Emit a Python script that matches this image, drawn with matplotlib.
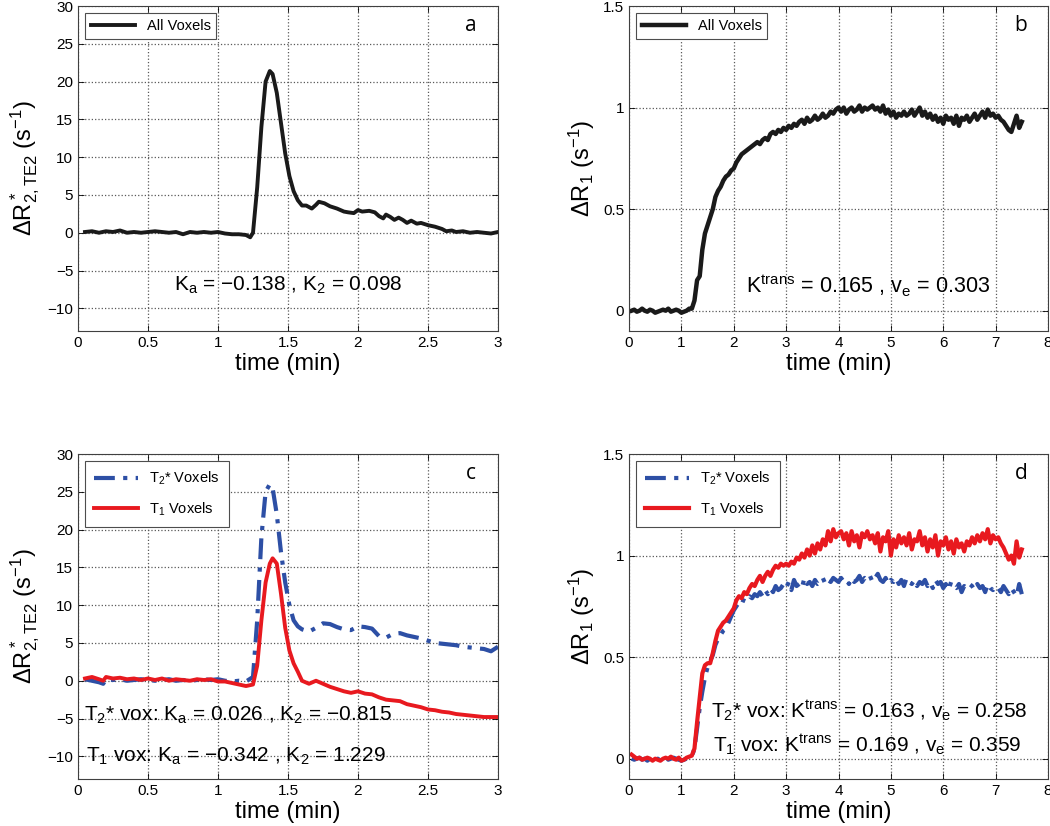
import numpy as np
import matplotlib
matplotlib.use('Agg')
import matplotlib.pyplot as plt
from matplotlib.ticker import FuncFormatter

plt.rcParams['font.family'] = ['Liberation Sans', 'DejaVu Sans']
plt.rcParams['mathtext.default'] = 'regular'

# ---- panel a : all voxels, dR2* ----
t_a = [0.05, 0.1, 0.15, 0.2, 0.25, 0.3, 0.35, 0.4, 0.45, 0.5, 0.55, 0.6, 0.65, 0.7, 0.75, 0.8,
       0.85, 0.9, 0.95, 1.0, 1.05, 1.1, 1.15, 1.2,
       1.23, 1.25, 1.28, 1.31, 1.34, 1.37, 1.39, 1.42, 1.45, 1.48, 1.51, 1.54, 1.57,
       1.6, 1.63, 1.67, 1.7, 1.72, 1.76, 1.8, 1.85, 1.9, 1.93, 1.97, 2.0, 2.03, 2.08, 2.12,
       2.15, 2.18, 2.2, 2.23, 2.26, 2.29, 2.32, 2.35, 2.38, 2.42, 2.45, 2.5, 2.55, 2.6, 2.63,
       2.67, 2.7, 2.75, 2.8, 2.85, 2.9, 2.95, 3.0]
r2_all = [0.1, 0.2, 0.0, 0.2, 0.1, 0.3, 0.0, 0.1, 0.0, 0.1, 0.2, 0.1, 0.0, 0.1, -0.2, 0.1,
          0.0, 0.1, 0.0, 0.1, -0.1, -0.2, -0.2, -0.3,
          -0.6, 0.0, 6, 14, 20, 21.4, 21.0, 18.5, 14.5, 10.5, 7.5, 5.5, 4.3,
          3.6, 3.6, 3.2, 3.7, 4.1, 3.9, 3.5, 3.2, 2.8, 2.7, 2.6, 3.0, 2.8, 2.9, 2.7,
          2.2, 1.9, 2.4, 2.1, 1.7, 2.0, 1.7, 1.3, 1.6, 1.2, 1.3, 1.0, 0.8, 0.5, 0.2,
          0.3, 0.1, 0.2, 0.0, 0.1, 0.0, -0.1, 0.1]

# ---- panel c : T2* voxels vs T1 voxels, dR2* ----
t_c = [0.05, 0.1, 0.15, 0.18, 0.2,
       0.25, 0.3, 0.35, 0.4, 0.45, 0.5, 0.55, 0.6, 0.65, 0.7, 0.75, 0.8, 0.85, 0.9, 0.95,
       1.0, 1.05, 1.1, 1.15, 1.2,
       1.25, 1.28, 1.31, 1.34, 1.37, 1.39, 1.42, 1.45, 1.48, 1.51, 1.54, 1.57,
       1.6, 1.65, 1.7, 1.75, 1.8, 1.85, 1.9, 1.95, 2.0, 2.05, 2.1, 2.15, 2.2, 2.25, 2.3,
       2.35, 2.4, 2.45, 2.5, 2.55, 2.6, 2.65, 2.7, 2.75, 2.8, 2.85, 2.9, 2.95, 3.0]
r2_t2vox = [0.2, 0.0, -0.2, -0.4, 0.2,
            0.1, 0.2, 0.0, 0.1, 0.2, 0.1, 0.0, 0.1, 0.2, 0.0, 0.1, 0.0, 0.1, 0.2, 0.1,
            0.2, 0.0, -0.1, 0.0, -0.1,
            0.5, 8, 19, 25, 26, 25.5, 22, 17, 13, 10, 8, 7.2,
            6.8, 6.5, 7.0, 7.6, 7.5, 7.1, 6.8, 6.7, 7.2, 7.1, 6.9, 5.9, 5.7, 6.2, 6.3,
            6.0, 5.8, 5.6, 5.3, 5.0, 4.9, 4.8, 4.7, 4.5, 4.4, 4.3, 4.2, 3.9, 4.5]
r2_t1vox = [0.3, 0.5, 0.2, 0.0, 0.5,
            0.3, 0.4, 0.2, 0.3, 0.1, 0.3, 0.1, 0.3, 0.0, 0.2, 0.1, 0.0, 0.2, 0.1, 0.2,
            -0.1, -0.1, -0.3, -0.5, -0.7,
            -0.5, 2, 8, 13, 15.5, 16.2, 15.5, 11.5, 7, 4, 2.3, 1.2,
            0.0, -0.4, 0.0, -0.4, -0.8, -1.1, -1.4, -1.6, -1.4, -1.7, -1.8, -2.2, -2.5, -2.6, -2.7,
            -3.1, -3.3, -3.5, -3.8, -3.9, -4.1, -4.2, -4.4, -4.5, -4.6, -4.7, -4.8, -4.8, -4.8]

# ---- panels b, d : dR1, sampled every 0.05 min from 0.05 to 7.5 ----
t_long = np.arange(1, 151) * 0.05
r1_all = [0.0, 0.005, -0.005, 0.0, 0.01, 0.0, -0.005, 0.005, 0.0, -0.01,
          -0.005, 0.0, 0.005, 0.0, 0.01, -0.005, 0.0, 0.005, 0.0, -0.01,
          -0.005, 0.0, 0.01, 0.01, 0.05, 0.15, 0.17, 0.30, 0.38, 0.42,
          0.46, 0.50, 0.56, 0.59, 0.61, 0.64, 0.66, 0.67, 0.69, 0.70,
          0.73, 0.75, 0.77, 0.78, 0.79, 0.80, 0.81, 0.82, 0.83, 0.82,
          0.84, 0.85, 0.84, 0.87, 0.88, 0.87, 0.89, 0.88, 0.90, 0.89,
          0.91, 0.90, 0.92, 0.91, 0.93, 0.94, 0.92, 0.95, 0.93, 0.94,
          0.96, 0.94, 0.95, 0.97, 0.95, 0.96, 0.98, 0.97, 0.99, 1.00,
          0.98, 1.00, 0.97, 0.99, 1.00, 0.98, 0.99, 1.01, 0.98, 1.00,
          0.99, 1.00, 1.01, 0.99, 1.00, 0.98, 1.01, 0.97, 0.99, 0.96,
          0.98, 0.95, 0.97, 0.96, 0.98, 0.96, 0.97, 0.99, 0.96, 0.98,
          1.00, 0.96, 0.98, 0.95, 0.97, 0.94, 0.96, 0.93, 0.95, 0.92,
          0.96, 0.94, 0.95, 0.92, 0.96, 0.91, 0.95, 0.94, 0.96, 0.93,
          0.95, 0.97, 0.94, 0.96, 0.98, 0.95, 0.99, 0.96, 0.97, 0.95,
          0.96, 0.94, 0.93, 0.91, 0.89, 0.88, 0.92, 0.96, 0.90, 0.93]
r1_t2vox = [0.0, -0.005, 0.0, 0.005, -0.005, 0.0, -0.01, 0.0, 0.005, -0.005,
            0.0, -0.01, 0.0, 0.005, -0.005, 0.0, 0.005, 0.0, -0.005, -0.01,
            -0.005, 0.0, 0.005, 0.01, 0.05, 0.15, 0.25, 0.33, 0.40, 0.45,
            0.48, 0.51, 0.56, 0.59, 0.61, 0.63, 0.64, 0.67, 0.70, 0.73,
            0.75, 0.77, 0.76, 0.79, 0.78, 0.80, 0.79, 0.81, 0.80, 0.82,
            0.80, 0.83, 0.81, 0.84, 0.82, 0.85, 0.83, 0.84, 0.86, 0.84,
            0.87, 0.83, 0.88, 0.85, 0.86, 0.84, 0.89, 0.86, 0.87, 0.85,
            0.88, 0.86, 0.87, 0.89, 0.86, 0.88, 0.87, 0.89, 0.88, 0.87,
            0.89, 0.87, 0.88, 0.86, 0.89, 0.87, 0.88, 0.90, 0.87, 0.89,
            0.88, 0.90, 0.87, 0.89, 0.91, 0.88, 0.87, 0.89, 0.86, 0.88,
            0.87, 0.89, 0.86, 0.88, 0.85, 0.89, 0.87, 0.86, 0.88, 0.85,
            0.87, 0.86, 0.88, 0.85, 0.87, 0.84, 0.88, 0.86, 0.87, 0.84,
            0.86, 0.83, 0.87, 0.85, 0.84, 0.86, 0.82, 0.85, 0.84, 0.86,
            0.85, 0.83, 0.86, 0.84, 0.85, 0.82, 0.86, 0.84, 0.83, 0.85,
            0.84, 0.82, 0.85, 0.83, 0.81, 0.84, 0.82, 0.80, 0.86, 0.81]
r1_t1vox = [0.02, 0.01, 0.0, 0.005, -0.005, 0.0, 0.005, 0.0, -0.01, 0.0,
            -0.005, -0.01, 0.0, 0.005, 0.0, 0.01, 0.0, -0.005, 0.005, -0.01,
            -0.005, 0.005, 0.01, 0.015, 0.05, 0.18, 0.30, 0.42, 0.46, 0.47,
            0.47, 0.52, 0.58, 0.63, 0.65, 0.67, 0.68, 0.70, 0.72, 0.74,
            0.78, 0.80, 0.79, 0.82, 0.81, 0.84, 0.86, 0.85, 0.88, 0.90,
            0.87, 0.90, 0.92, 0.90, 0.93, 0.95, 0.94, 0.96, 0.95, 0.96,
            0.95, 0.97, 0.96, 0.99, 0.98, 1.01, 0.99, 1.03, 1.00, 1.05,
            1.01, 1.06, 1.03, 1.08, 1.05, 1.12, 1.07, 1.13, 1.09, 1.11,
            1.12, 1.08, 1.11, 1.05, 1.12, 1.07, 1.10, 1.04, 1.11, 1.09,
            1.12, 1.08, 1.10, 1.06, 1.11, 1.02, 1.09, 1.07, 1.12, 1.00,
            1.08, 1.04, 1.10, 1.06, 1.09, 1.05, 1.11, 1.03, 1.08, 1.07,
            1.12, 1.05, 1.09, 1.02, 1.08, 1.04, 1.10, 1.00, 1.07, 1.05,
            1.09, 1.03, 1.07, 1.01, 1.08, 1.04, 1.06, 1.02, 1.07, 1.05,
            1.09, 1.06, 1.10, 1.07, 1.11, 1.08, 1.13, 1.06, 1.10, 1.08,
            1.09, 1.06, 1.04, 1.01, 0.98, 1.00, 0.96, 1.07, 0.99, 1.03]

r2_label = r'$\Delta R^*_{2,TE2}$ (s$^{-1}$)'
r1_label = r'$\Delta R_1$ (s$^{-1}$)'
blk = '#1a1a1a'
red = '#e8191f'
blue = '#2d4fa5'

fig = plt.figure(figsize=(10.5, 8.26), dpi=100)
W, H = 1050.0, 826.0
def make_ax(l, t, r, b):
    return fig.add_axes([l / W, 1 - b / H, (r - l) / W, (b - t) / H])

ax_a = make_ax(78, 6, 498, 331)
ax_b = make_ax(629, 6, 1048, 331)
ax_c = make_ax(78, 454, 498, 779)
ax_d = make_ax(629, 454, 1048, 779)

fmt = FuncFormatter(lambda v, p: ('%g' % v).replace('-', '\u2212'))

def style(ax, xlim, xticks, ylim, yticks, ylabel, letter):
    ax.set_xlim(xlim)
    ax.set_ylim(ylim)
    ax.set_xticks(xticks)
    ax.set_yticks(yticks)
    ax.xaxis.set_major_formatter(fmt)
    ax.yaxis.set_major_formatter(fmt)
    ax.grid(True, linestyle=':', color='0.35', linewidth=0.9)
    ax.tick_params(direction='in', top=True, right=True, labelsize=11, length=4, width=0.6)
    for s in ax.spines.values():
        s.set_linewidth(0.8)
        s.set_color('0.25')
    ax.set_xlabel('time (min)', fontsize=17, labelpad=2)
    ax.set_ylabel(ylabel, fontsize=17, labelpad=4)
    ax.text(0.935, 0.94, letter, transform=ax.transAxes, fontsize=15,
            family=['Open Sans', 'DejaVu Sans'], ha='center', va='center')

leg_kw = dict(loc='upper left', fancybox=False, framealpha=1, edgecolor='0.3',
              fontsize=10.5, handlelength=3.0, borderaxespad=0.5)

# a
ax_a.plot(t_a, r2_all, color=blk, lw=2.8, label='All Voxels')
style(ax_a, (0, 3), [0, 0.5, 1, 1.5, 2, 2.5, 3], (-13, 30), range(-10, 31, 5), r2_label, 'a')
ax_a.legend(**leg_kw).get_frame().set_linewidth(0.8)
ax_a.text(1.5, -7.7, r'K$_a$ = $-$0.138 , K$_2$ = 0.098', fontsize=15, ha='center', va='baseline')

# b
ax_b.plot(t_long, r1_all, color=blk, lw=3.2, label='All Voxels')
style(ax_b, (0, 8), range(0, 9), (-0.1, 1.5), [0, 0.5, 1, 1.5], r1_label, 'b')
ax_b.legend(**leg_kw).get_frame().set_linewidth(0.8)
ax_b.text(4.56, 0.087, r'K$^{trans}$ = 0.165 , v$_e$ = 0.303', fontsize=15.5, ha='center', va='baseline')

# c
ax_c.plot(t_c, r2_t2vox, color=blue, lw=3, dashes=[5, 2, 1, 2], label='T$_2$* Voxels')
ax_c.plot(t_c, r2_t1vox, color=red, lw=2.8, label='T$_1$ Voxels')
style(ax_c, (0, 3), [0, 0.5, 1, 1.5, 2, 2.5, 3], (-13, 30), range(-10, 31, 5), r2_label, 'c')
ax_c.legend(labelspacing=0.9, borderpad=0.6, **leg_kw).get_frame().set_linewidth(0.8)
ax_c.text(0.04, -5.3, r'T$_2$* vox: K$_a$ = 0.026 , K$_2$ = $-$0.815', fontsize=15, ha='left', va='baseline')
ax_c.text(0.057, -10.7, r'T$_1$ vox: K$_a$ = $-$0.342 , K$_2$ = 1.229', fontsize=15, ha='left', va='baseline')

# d
ax_d.plot(t_long, r1_t2vox, color=blue, lw=3, dashes=[5, 2, 1, 2], label='T$_2$* Voxels')
ax_d.plot(t_long, r1_t1vox, color=red, lw=3.0, label='T$_1$ Voxels')
style(ax_d, (0, 8), range(0, 9), (-0.1, 1.5), [0, 0.5, 1, 1.5], r1_label, 'd')
ax_d.legend(labelspacing=0.9, borderpad=0.6, **leg_kw).get_frame().set_linewidth(0.8)
ax_d.text(1.57, 0.20, r'T$_2$* vox: K$^{trans}$ = 0.163 , v$_e$ = 0.258', fontsize=15, ha='left', va='baseline')
ax_d.text(1.61, 0.033, r'T$_1$ vox: K$^{trans}$ = 0.169 , v$_e$ = 0.359', fontsize=15, ha='left', va='baseline')

fig.savefig('out.png', dpi=100, facecolor='white')
